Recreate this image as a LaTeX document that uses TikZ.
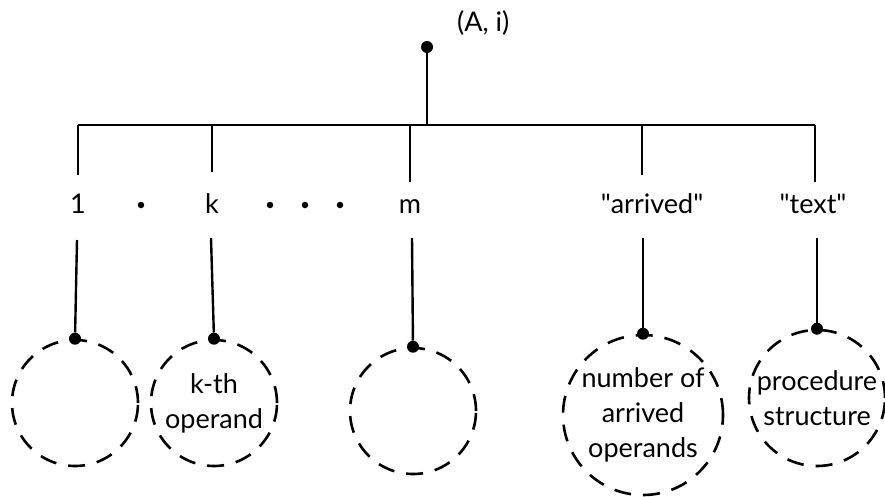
\documentclass[tikz,border=0pt]{standalone}
\usepackage{fontspec}
\setmainfont{Lato}
\begin{document}
\begin{tikzpicture}[x=1pt,y=-1pt,
  wire/.style={line width=2.4pt},
  blob/.style={circle,fill=black,inner sep=0pt,minimum size=12pt},
  cell/.style={circle,draw,dash pattern=on 17pt off 12pt,line width=2.6pt,inner sep=0pt,align=center,font=\fontsize{27}{35}\selectfont},
  lab/.style={font=\fontsize{27}{30}\selectfont,inner sep=0pt,anchor=base},
  dotlab/.style={circle,fill=black,inner sep=0pt,minimum size=6.5pt}]
\useasboundingbox (0,0) rectangle (885,496);
% root
\node[blob] (root) at (427,47) {};
\node[lab,anchor=base west] (ai) at (457,31) {(A, i)};
\coordinate (bj) at (427,125);
\coordinate (bl) at (78,125);
\coordinate (br) at (815,125);
\draw[wire] (root) -- (bj);
\draw[wire] (bl) -- (br);
% labels
\node[lab] (l1) at (78,213) {1};
\node[dotlab] (d1) at (141,205) {};
\node[lab] (lk) at (212,213) {k};
\node[dotlab] (d2) at (270,205) {};
\node[dotlab] (d3) at (305,205) {};
\node[dotlab] (d4) at (340,205) {};
\node[lab] (lm) at (410,213) {m};
\node[lab] (la) at (652,213) {\textquotedbl arrived\textquotedbl};
\node[lab] (lt) at (813,213) {\textquotedbl text\textquotedbl};
% upper stubs
\coordinate (u1) at (78,175);
\coordinate (uk) at (212,172);
\coordinate (um) at (410,182);
\coordinate (ua) at (642,175);
\coordinate (ut) at (815,182);
\draw[wire] (bl) -- (u1);
\draw[wire] (212,125) -- (uk);
\draw[wire] (410,125) -- (um);
\draw[wire] (642,125) -- (ua);
\draw[wire] (br) -- (ut);
% circles
\node[cell,minimum size=126pt] (c1) at (75,403) {};
\node[cell,minimum size=126pt] (ck) at (214,403) {k-th\\operand};
\node[cell,minimum size=126pt] (cm) at (413,411) {};
\node[cell,minimum size=160pt] (ca) at (643,415) {number of\\arrived\\operands};
\node[cell,minimum size=136pt] (ct) at (817,398) {procedure\\structure};
% lower starts
\coordinate (s1) at (77,240);
\coordinate (sk) at (211,238);
\coordinate (sm) at (412,238);
\coordinate (sa) at (643,238);
\coordinate (st) at (817,238);
\node[blob] (p1) at (c1.north) {};
\node[blob] (pk) at (ck.north) {};
\node[blob] (pm) at (cm.north) {};
\node[blob] (pa) at (ca.north) {};
\node[blob] (pt) at (ct.north) {};
\draw[wire] (s1) -- (p1);
\draw[wire] (sk) -- (pk);
\draw[wire] (sm) -- (pm);
\draw[wire] (sa) -- (pa);
\draw[wire] (st) -- (pt);
\end{tikzpicture}
\end{document}
